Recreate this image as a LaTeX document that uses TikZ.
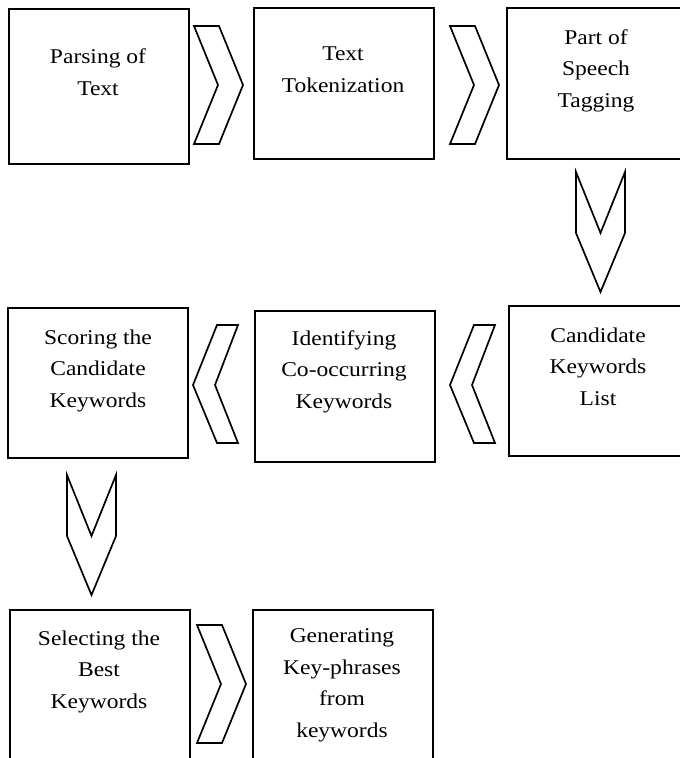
\documentclass[tikz,border=0pt]{standalone}
\usepackage{fontspec}
\setmainfont{Liberation Serif}[FakeStretch=1.12]
\begin{document}
\begin{tikzpicture}[x=1pt,y=-1pt,
  box/.style={draw, line width=1.7pt, minimum width=180pt, minimum height=151pt, inner sep=0pt, anchor=north west},
  lbl/.style={align=center, font=\fontsize{21}{31.5}\selectfont, anchor=base, inner sep=0pt},
  chev/.style={draw, line width=1.7pt, line join=miter, fill=white},
  pics/chevright/.style={code={\draw[chev] (0,0) -- (25,0) -- (49,59) -- (25,118) -- (0,118) -- (24,59) -- cycle;}},
  pics/chevleft/.style={code={\draw[chev] (0,0) -- (-21,0) -- (-45,60) -- (-21,118) -- (0,118) -- (-23,60) -- cycle;}},
  pics/chevdown/.style={code={\draw[chev] (0,0) -- (24.5,61) -- (49,0) -- (49,61) -- (24.5,120) -- (0,61) -- cycle;}}
]
\useasboundingbox (0,0) rectangle (680,758);
\clip (0,0) rectangle (680,758);
% row 1
\node[box, minimum height=155pt] (b1) at (8,8) {};
\node[box] (b2) at (253,7) {};
\node[box] (b3) at (506,7) {};
\node[lbl] (t1) at (98,95) {Parsing of\\Text};
\node[lbl] (t2) at (343,92) {Text\\Tokenization};
\node[lbl] (t3) at (596,107) {Part of\\Speech\\Tagging};
% row 2
\node[box, minimum height=150pt] (b4) at (508,305) {};
\node[box] (b5) at (254,310) {};
\node[box, minimum height=150pt] (b6) at (7,307) {};
\node[lbl] (t4) at (598,405) {Candidate\\Keywords\\List};
\node[lbl] (t5) at (344,408) {Identifying\\Co-occurring\\Keywords};
\node[lbl] (t6) at (98,407) {Scoring the\\Candidate\\Keywords};
% row 3
\node[box] (b7) at (9,609) {};
\node[box] (b8) at (252,609) {};
\node[lbl] (t7) at (99,708) {Selecting the\\Best\\Keywords};
\node[lbl] (t8) at (342,737) {Generating\\Key-phrases\\from\\keywords};
% chevrons
\pic at (194,26) {chevright};
\pic at (450,26) {chevright};
\pic at (576,172) {chevdown};
\pic at (495,325) {chevleft};
\pic at (238,325) {chevleft};
\pic at (67,475) {chevdown};
\pic at (197,625) {chevright};
\end{tikzpicture}
\end{document}
